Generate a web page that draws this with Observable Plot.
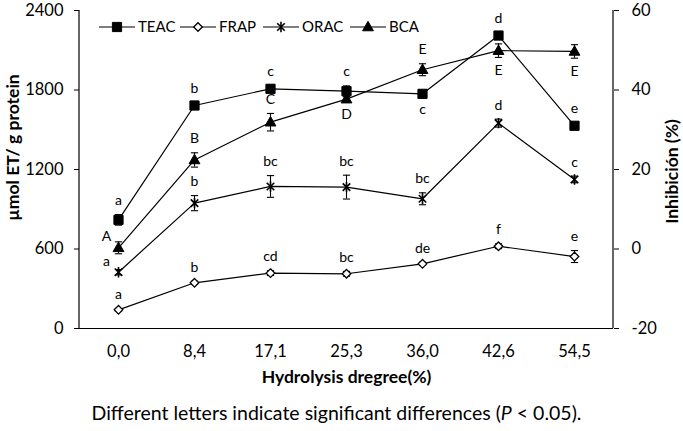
<!DOCTYPE html>
<html>
<head>
<meta charset="utf-8">
<script src="https://cdn.jsdelivr.net/npm/d3@7"></script>
<script src="https://cdn.jsdelivr.net/npm/@observablehq/plot@0.6"></script>
<style>
  html, body { margin: 0; padding: 0; background: #fff; }
  #wrap { position: relative; width: 683px; height: 431px; font-family: Lato, "DejaVu Sans", sans-serif; }
  #caption { width: 683px; box-sizing: border-box; padding-right: 10px; text-align: center; font-size: 19.5px; line-height: 36px; color: #000; white-space: nowrap; }
</style>
</head>
<body>
<div id="wrap"></div>
<script>
// ---- data ----
const categories = ["0,0", "8,4", "17,1", "25,3", "36,0", "42,6", "54,5"];
const leftTicks = [0, 600, 1200, 1800, 2400];
const rightTicks = [-20, 0, 20, 40, 60];

const teac = [820, 1683, 1809, 1791, 1771, 2211, 1530];
const teacErr = [40, 25, 25, 40, 20, 25, 25];
const teacLetters = ["a", "b", "c", "c", "c", "d", "e"];
const teacSide = ["above", "above", "above", "above", "below", "above", "above"];

const frap = [141, 345, 418, 413, 488, 621, 543];
const frapErr = [10, 12, 18, 18, 12, 18, 45];
const frapLetters = ["a", "b", "cd", "bc", "de", "f", "e"];
const frapSide = ["above", "above", "above", "above", "above", "above", "above"];

const orac = [425, 946, 1072, 1067, 979, 1550, 1125];
const oracErr = [20, 57, 82, 90, 45, 30, 25];
const oracLetters = ["a", "b", "bc", "bc", "bc", "d", "c"];
const oracSide = ["left", "above", "above", "above", "above", "above", "above"];

// BCA in inhibition % (right axis)
const bca = [0.3, 22.4, 31.9, 37.7, 45.1, 49.9, 49.7];
const bcaErr = [1.5, 1.8, 2.2, 0.6, 1.5, 1.7, 1.7];
const bcaLetters = ["A", "B", "C", "D", "E", "E", "E"];
const bcaSide = ["left", "above", "above", "below", "above", "below", "below"];

const seriesNames = ["TEAC", "FRAP", "ORAC", "BCA"];

// right axis (%) -> left axis units
const leftMin = leftTicks[0], leftMax = leftTicks[leftTicks.length - 1];
const rightMin = rightTicks[0], rightMax = rightTicks[rightTicks.length - 1];
const k = (leftMax - leftMin) / (rightMax - rightMin);
const toLeft = p => (p - rightMin) * k + leftMin;
const toRight = v => (v - leftMin) / k + rightMin;

function build(name, vals, errs, letters, sides, conv = v => v, convErr = e => e) {
  return categories.map((c, i) => ({
    series: name, cat: c, v: conv(vals[i]), err: convErr(errs[i]),
    letter: letters[i], side: sides[i]
  }));
}
const rows = [
  ...build("TEAC", teac, teacErr, teacLetters, teacSide),
  ...build("FRAP", frap, frapErr, frapLetters, frapSide),
  ...build("ORAC", orac, oracErr, oracLetters, oracSide),
  ...build("BCA", bca, bcaErr, bcaLetters, bcaSide, toLeft, e => e * k)
];

// ---- custom symbols ----
const rad = size => Math.sqrt(size / Math.PI);
const symSquare = { draw(ctx, size) { const r = rad(size); ctx.rect(-r, -r, 2 * r, 2 * r); } };
const symDiamond = { draw(ctx, size) { const r = rad(size); ctx.moveTo(0, -r); ctx.lineTo(r, 0); ctx.lineTo(0, r); ctx.lineTo(-r, 0); ctx.closePath(); } };
const symStar = { draw(ctx, size) { const r = rad(size), a = r * 0.72;
  ctx.moveTo(-a, -a); ctx.lineTo(a, a); ctx.moveTo(a, -a); ctx.lineTo(-a, a); ctx.moveTo(0, -r); ctx.lineTo(0, r); } };
const symTriangle = { draw(ctx, size) { const r = rad(size);
  ctx.moveTo(0, -r * 1.05); ctx.lineTo(r, r * 0.7); ctx.lineTo(-r, r * 0.7); ctx.closePath(); } };
const symCap = { draw(ctx, size) { const r = rad(size); ctx.moveTo(-r, 0); ctx.lineTo(r, 0); } };

const markerStyle = {
  TEAC: { symbol: symSquare, r: 4.6, fill: "#000", stroke: "#000", strokeWidth: 1 },
  FRAP: { symbol: symDiamond, r: 4.3, fill: "#fff", stroke: "#000", strokeWidth: 1.3 },
  ORAC: { symbol: symStar, r: 5.2, fill: "none", stroke: "#000", strokeWidth: 1.6 },
  BCA: { symbol: symTriangle, r: 5.4, fill: "#000", stroke: "#000", strokeWidth: 1 }
};

const W = 683, H = 395;
const ML = 79, MR = 70, MT = 10, MB = 67;
const font = "Lato, 'DejaVu Sans', sans-serif";
const tickFont = 16.5, titleFont = 17.5, letterFont = 14;

const marks = [
  // lines
  Plot.line(rows, { x: "cat", y: "v", z: "series", stroke: "#000", strokeWidth: 1.2 }),
  // error bars
  Plot.ruleX(rows, { x: "cat", y1: d => d.v - d.err, y2: d => d.v + d.err, stroke: "#000", strokeWidth: 1.1 }),
  Plot.dot(rows, { x: "cat", y: d => d.v + d.err, symbol: symCap, r: 3.6, fill: "none", stroke: "#000", strokeWidth: 1.1 }),
  Plot.dot(rows, { x: "cat", y: d => d.v - d.err, symbol: symCap, r: 3.6, fill: "none", stroke: "#000", strokeWidth: 1.1 }),
  // markers
  ...seriesNames.map(s => Plot.dot(rows.filter(d => d.series === s), { x: "cat", y: "v", ...markerStyle[s] })),
  // significance letters
  Plot.text(rows.filter(d => d.side === "above"), { x: "cat", y: d => d.v + d.err, text: "letter", dy: -14, fontSize: letterFont, fill: "#000" }),
  Plot.text(rows.filter(d => d.side === "below"), { x: "cat", y: d => d.v - d.err, text: "letter", dy: 13, fontSize: letterFont, fill: "#000" }),
  Plot.text(rows.filter(d => d.side === "left"), { x: "cat", y: "v", text: "letter", dx: -12, dy: -11, fontSize: letterFont, fill: "#000" }),
  // axes
  Plot.axisY({ anchor: "left", ticks: leftTicks, tickFormat: d => String(d), tickSize: 5, tickPadding: 11, label: null, fontSize: tickFont }),
  Plot.axisY({ anchor: "right", ticks: leftTicks, tickFormat: d => String(toRight(d)), tickSize: 5, tickPadding: 13, label: null, fontSize: tickFont }),
  Plot.axisX({ anchor: "bottom", tickSize: 0, tickPadding: 17, label: null, fontSize: tickFont }),
  Plot.ruleY([leftMin], { stroke: "#000", strokeWidth: 1.2 }),
  // axis titles
  Plot.text(["Hydrolysis dregree(%)"], { frameAnchor: "bottom", dy: 54, fontSize: titleFont, fontWeight: "bold", fill: "#000" }),
  Plot.text(["µmol ET/ g protein"], { frameAnchor: "left", textAnchor: "middle", dx: -66, dy: -22, rotate: -90, fontSize: titleFont, fontWeight: "bold", fill: "#000" }),
  Plot.text(["Inhibición (%)"], { frameAnchor: "right", textAnchor: "middle", dx: 59, dy: 2, rotate: -90, fontSize: titleFont, fontWeight: "bold", fill: "#000" })
];

const plot = Plot.plot({
  width: W, height: H,
  marginLeft: ML, marginRight: MR, marginTop: MT, marginBottom: MB,
  style: { fontFamily: font, color: "#000", background: "#fff", overflow: "visible" },
  x: { type: "point", domain: categories, padding: 0.5 },
  y: { domain: [leftMin, leftMax] },
  marks
});

// vertical axis lines (left and right) from the plot's scales
const svg = d3.select(plot);
const xr = plot.scale("x").range, yr = plot.scale("y").range;
const xLeft = Math.min(...xr), xRight = Math.max(...xr);
const yTop = Math.min(...yr), yBot = Math.max(...yr);
[xLeft, xRight].forEach(x => svg.append("line")
  .attr("x1", x).attr("x2", x).attr("y1", yTop).attr("y2", yBot)
  .attr("stroke", "#000").attr("stroke-width", 1.2));

// legend inside plot area
const legend = svg.append("g").attr("font-family", font).attr("font-size", 15).attr("text-anchor", "start");
const legendStarts = [99, 180, 263, 350];
const legendY = 27;
seriesNames.forEach((s, i) => {
  const x0 = legendStarts[i];
  legend.append("line").attr("x1", x0).attr("x2", x0 + 36).attr("y1", legendY).attr("y2", legendY)
    .attr("stroke", "#000").attr("stroke-width", 1.2);
  const m = markerStyle[s];
  const size = Math.PI * m.r * m.r;
  const p = d3.path(); m.symbol.draw(p, size);
  legend.append("path").attr("d", p.toString()).attr("transform", `translate(${x0 + 18},${legendY})`)
    .attr("fill", m.fill).attr("stroke", m.stroke).attr("stroke-width", m.strokeWidth);
  legend.append("text").attr("x", x0 + 39).attr("y", legendY).attr("dy", "0.35em")
    .attr("text-anchor", "start").attr("fill", "#000").text(s);
});

const wrap = document.getElementById("wrap");
wrap.appendChild(plot);
const cap = document.createElement("div");
cap.id = "caption";
cap.innerHTML = "Different letters indicate significant differences (<i>P</i> &lt; 0.05).";
wrap.appendChild(cap);
</script>
</body>
</html>
